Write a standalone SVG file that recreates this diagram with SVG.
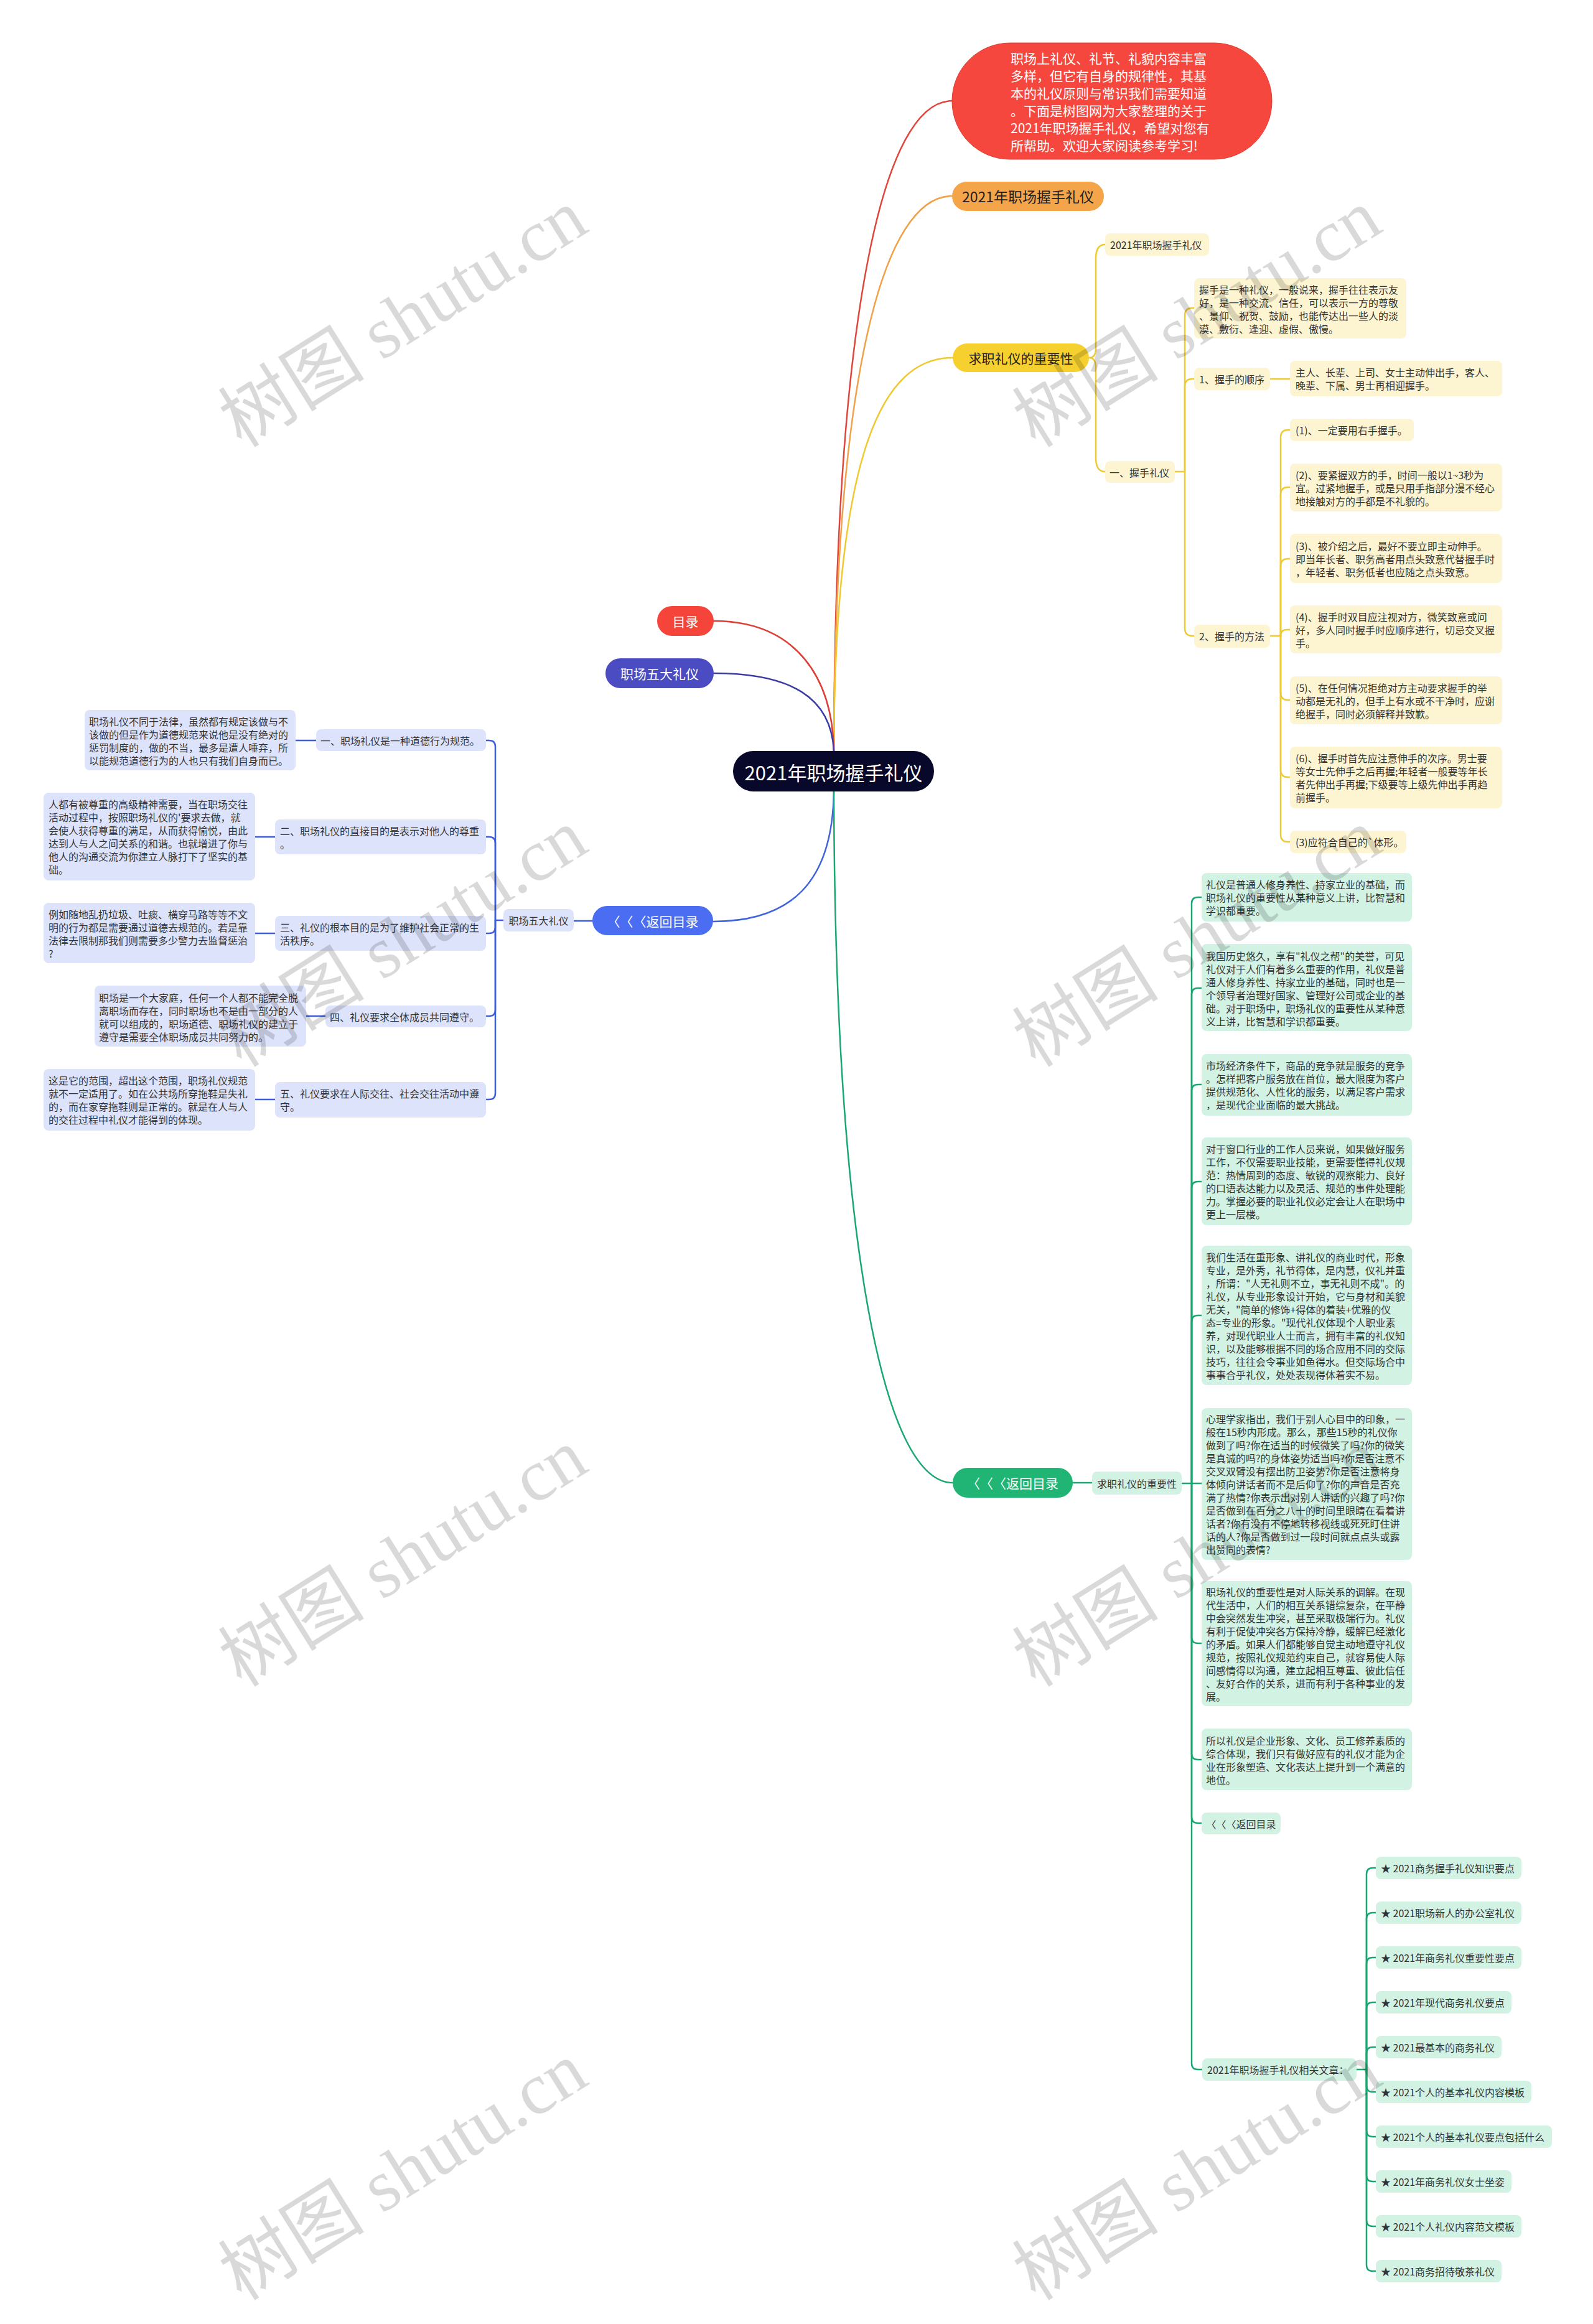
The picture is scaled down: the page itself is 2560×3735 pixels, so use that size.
<svg xmlns="http://www.w3.org/2000/svg" width="2560" height="3735" viewBox="0 0 2560 3735">
<style>
text{font-family:"Noto Sans CJK SC","Noto Sans",sans-serif;dominant-baseline:central;text-spacing-trim:space-all}
tspan{dominant-baseline:central}
.s{font-size:16px;fill:#333}
.w{fill:#fff;text-anchor:middle}
.ly{fill:#fdf5d1}
.lb{fill:#dde3fb}
.lg{fill:#d2f2e4}
#links path{fill:none;stroke-width:2.5;stroke-linecap:round}
.cy{stroke:#efc930}
.cb{stroke:#3e5fd8}
.cg{stroke:#19a771}
.wm{font-family:"Liberation Serif","Noto Sans CJK SC",serif;font-size:118px;fill:#000;fill-opacity:.15;text-anchor:middle}
</style>
<rect width="2560" height="3735" fill="#fff"/>
<g id="links">
<path stroke="#e0453b" d="M1340,1207 C1342,500 1420,162 1530,162"/>
<path stroke="#f0a24a" d="M1340,1207 C1342,600 1420,315 1530,315"/>
<path stroke="#efc92f" d="M1340,1207 C1342,720 1420,575 1531,575"/>
<path stroke="#dc3f36" d="M1147,998 C1280,998 1338,1090 1340,1207"/>
<path stroke="#3b3ba6" d="M1147,1082 C1270,1082 1336,1120 1340,1207"/>
<path stroke="#3f63dd" d="M1340,1272 C1338,1420 1270,1481 1146,1481"/>
<path stroke="#1aa872" d="M1340,1272 C1342,2000 1420,2383 1531,2383"/>
<path class="cb" d="M952,1480 H922"/>
<path class="cb" d="M809,1479 H796 V1200 Q796,1190 786,1190 H781"/>
<path class="cb" d="M796,1479 V1355 Q796,1345 786,1345 H781"/>
<path class="cb" d="M796,1479 V1490 Q796,1500 786,1500 H781"/>
<path class="cb" d="M796,1479 V1623 Q796,1633 786,1633 H781"/>
<path class="cb" d="M796,1479 V1757 Q796,1767 786,1767 H781"/>
<path class="cb" d="M475,1190 H508"/>
<path class="cb" d="M410,1345 H442"/>
<path class="cb" d="M410,1500 H442"/>
<path class="cb" d="M492,1633 H523"/>
<path class="cb" d="M410,1767 H442"/>
<path class="cy" d="M1750,575 Q1761,575 1761,560 V415 Q1761,393 1776,393"/>
<path class="cy" d="M1750,575 Q1761,575 1761,590 V736 Q1761,758 1776,758"/>
<path class="cy" d="M1888,758 H1904 V507 Q1904,495 1916,495 H1919"/>
<path class="cy" d="M1904,758 V621 Q1904,609 1916,609 H1919"/>
<path class="cy" d="M1904,758 V1010 Q1904,1022 1916,1022 H1919"/>
<path class="cy" d="M2041,609 H2073"/>
<path class="cy" d="M2041,1022 H2058 V703 Q2058,691 2070,691 H2073"/>
<path class="cy" d="M2058,1022 V795 Q2058,783 2070,783 H2073"/>
<path class="cy" d="M2058,1022 V910 Q2058,898 2070,898 H2073"/>
<path class="cy" d="M2058,1022 Q2058,1012 2068,1012 H2073"/>
<path class="cy" d="M2058,1022 V1113 Q2058,1125 2070,1125 H2073"/>
<path class="cy" d="M2058,1022 V1237 Q2058,1249 2070,1249 H2073"/>
<path class="cy" d="M2058,1022 V1341 Q2058,1353 2070,1353 H2073"/>
<path class="cg" d="M1724,2383 H1755"/>
<path class="cg" d="M1899,2384 H1931"/>
<path class="cg" d="M1915,2384 V1452 Q1915,1442 1925,1442 H1931"/>
<path class="cg" d="M1915,2384 V1598 Q1915,1588 1925,1588 H1931"/>
<path class="cg" d="M1915,2384 V1753 Q1915,1743 1925,1743 H1931"/>
<path class="cg" d="M1915,2384 V1909 Q1915,1899 1925,1899 H1931"/>
<path class="cg" d="M1915,2384 V2124 Q1915,2114 1925,2114 H1931"/>
<path class="cg" d="M1915,2384 V2631 Q1915,2641 1925,2641 H1931"/>
<path class="cg" d="M1915,2384 V2818 Q1915,2828 1925,2828 H1931"/>
<path class="cg" d="M1915,2384 V2920 Q1915,2930 1925,2930 H1931"/>
<path class="cg" d="M1915,2384 V3316 Q1915,3326 1925,3326 H1932"/>
<path class="cg" d="M2180,3326 H2196 V3012 Q2196,3002 2206,3002 H2211"/>
<path class="cg" d="M2196,3326 V3084 Q2196,3074 2206,3074 H2211"/>
<path class="cg" d="M2196,3326 V3156 Q2196,3146 2206,3146 H2211"/>
<path class="cg" d="M2196,3326 V3228 Q2196,3218 2206,3218 H2211"/>
<path class="cg" d="M2196,3326 V3300 Q2196,3290 2206,3290 H2211"/>
<path class="cg" d="M2196,3326 V3352 Q2196,3362 2206,3362 H2211"/>
<path class="cg" d="M2196,3326 V3424 Q2196,3434 2206,3434 H2211"/>
<path class="cg" d="M2196,3326 V3496 Q2196,3506 2206,3506 H2211"/>
<path class="cg" d="M2196,3326 V3568 Q2196,3578 2206,3578 H2211"/>
<path class="cg" d="M2196,3326 V3640 Q2196,3650 2206,3650 H2211"/>
</g>

<g id="center"><rect x="1178" y="1207" width="323" height="65" rx="32.5" fill="#08082a"/><text class="w" x="1339.5" y="1240" font-size="31">2021年职场握手礼仪</text></g>

<g id="intro"><rect x="1530" y="69" width="514" height="187" rx="93" fill="#f5473d" stroke="#de3a30" stroke-width="1"/>
<text font-size="21" fill="#fff"><tspan x="1624" y="93">职场上礼仪、礼节、礼貌内容丰富</tspan><tspan x="1624" y="121">多样，但它有自身的规律性，其基</tspan><tspan x="1624" y="149">本的礼仪原则与常识我们需要知道</tspan><tspan x="1624" y="177">。下面是树图网为大家整理的关于</tspan><tspan x="1624" y="205">2021年职场握手礼仪，希望对您有</tspan><tspan x="1624" y="233">所帮助。欢迎大家阅读参考学习!</tspan></text></g>

<g id="title2"><rect x="1530" y="292" width="244" height="47" rx="23.5" fill="#f4a449"/><text x="1652" y="315" font-size="23" fill="#222" text-anchor="middle">2021年职场握手礼仪</text></g>

<g id="mulu"><rect x="1056" y="974" width="91" height="48" rx="24" fill="#f5453b"/><text class="w" x="1101.5" y="998" font-size="21">目录</text></g>
<g id="wuda"><rect x="973" y="1058" width="174" height="48" rx="24" fill="#4c4cc2"/><text class="w" x="1060" y="1082" font-size="21">职场五大礼仪</text></g>
<g id="back-blue"><rect x="952" y="1456" width="194" height="47" rx="23.5" fill="#4a6df2"/><text class="w" x="1049" y="1480" font-size="21">〈〈〈返回目录</text></g>
<g id="back-green"><rect x="1531" y="2359" width="193" height="48" rx="24" fill="#20b574"/><text class="w" x="1627.5" y="2383" font-size="21">〈〈〈返回目录</text></g>
<g id="qiuzhi-y"><rect x="1531" y="552" width="219" height="46" rx="23" fill="#f6d02f"/><text x="1640.5" y="575" font-size="21" fill="#222" text-anchor="middle">求职礼仪的重要性</text></g>

<g id="y-title"><rect class="ly" x="1776" y="375" width="167" height="36" rx="8"/><text class="s" x="1784" y="393" font-size="18">2021年职场握手礼仪</text></g>
<g id="y-ws"><rect class="ly" x="1776" y="741" width="112" height="35" rx="8"/><text class="s" x="1783" y="758.5">一、握手礼仪</text></g>
<g id="y-def"><rect class="ly" x="1919" y="447" width="341" height="97" rx="8"/><text class="s"><tspan x="1927" y="465">握手是一种礼仪，一般说来，握手往往表示友</tspan><tspan x="1927" y="486">好，是一种交流、信任，可以表示一方的尊敬</tspan><tspan x="1927" y="507">、景仰、祝贺、鼓励，也能传达出一些人的淡</tspan><tspan x="1927" y="528">漠、敷衍、逢迎、虚假、傲慢。</tspan></text></g>
<g id="y-order"><rect class="ly" x="1919" y="591" width="122" height="36" rx="8"/><text class="s" x="1927" y="609">1、握手的顺序</text></g>
<g id="y-order-d"><rect class="ly" x="2073" y="580" width="341" height="57" rx="8"/><text class="s"><tspan x="2082" y="598">主人、长辈、上司、女士主动伸出手，客人、</tspan><tspan x="2082" y="619">晚辈、下属、男士再相迎握手。</tspan></text></g>
<g id="y-method"><rect class="ly" x="1919" y="1004" width="122" height="37" rx="8"/><text class="s" x="1927" y="1022">2、握手的方法</text></g>
<g id="y-m1"><rect class="ly" x="2073" y="673" width="199" height="36" rx="8"/><text class="s" x="2082" y="691">(1)、一定要用右手握手。</text></g>
<g id="y-m2"><rect class="ly" x="2073" y="745" width="341" height="77" rx="8"/><text class="s"><tspan x="2082" y="763">(2)、要紧握双方的手，时间一般以1~3秒为</tspan><tspan x="2082" y="784">宜。过紧地握手，或是只用手指部分漫不经心</tspan><tspan x="2082" y="805">地接触对方的手都是不礼貌的。</tspan></text></g>
<g id="y-m3"><rect class="ly" x="2073" y="858" width="341" height="79" rx="8"/><text class="s"><tspan x="2082" y="877">(3)、被介绍之后，最好不要立即主动伸手。</tspan><tspan x="2082" y="898">即当年长者、职务高者用点头致意代替握手时</tspan><tspan x="2082" y="919">，年轻者、职务低者也应随之点头致意。</tspan></text></g>
<g id="y-m4"><rect class="ly" x="2073" y="973" width="341" height="77" rx="8"/><text class="s"><tspan x="2082" y="991">(4)、握手时双目应注视对方，微笑致意或问</tspan><tspan x="2082" y="1012">好，多人同时握手时应顺序进行，切忌交叉握</tspan><tspan x="2082" y="1033">手。</tspan></text></g>
<g id="y-m5"><rect class="ly" x="2073" y="1087" width="341" height="77" rx="8"/><text class="s"><tspan x="2082" y="1105">(5)、在任何情况拒绝对方主动要求握手的举</tspan><tspan x="2082" y="1126">动都是无礼的，但手上有水或不干净时，应谢</tspan><tspan x="2082" y="1147">绝握手，同时必须解释并致歉。</tspan></text></g>
<g id="y-m6"><rect class="ly" x="2073" y="1200" width="341" height="99" rx="8"/><text class="s"><tspan x="2082" y="1218">(6)、握手时首先应注意伸手的次序。男士要</tspan><tspan x="2082" y="1239">等女士先伸手之后再握;年轻者一般要等年长</tspan><tspan x="2082" y="1260">者先伸出手再握;下级要等上级先伸出手再趋</tspan><tspan x="2082" y="1281">前握手。</tspan></text></g>
<g id="y-m7"><rect class="ly" x="2073" y="1335" width="187" height="36" rx="8"/><text class="s" x="2082" y="1353">(3)应符合自己的`体形。</text></g>

<g id="b-root"><rect class="lb" x="809" y="1461" width="113" height="36" rx="8"/><text class="s" x="865.5" y="1479" text-anchor="middle">职场五大礼仪</text></g>
<g id="b1"><rect class="lb" x="508" y="1172" width="273" height="35" rx="8"/><text class="s" x="515" y="1189.5">一、职场礼仪是一种道德行为规范。</text></g>
<g id="b1d"><rect class="lb" x="136" y="1141" width="339" height="97" rx="8"/><text class="s"><tspan x="143" y="1159">职场礼仪不同于法律，虽然都有规定该做与不</tspan><tspan x="143" y="1180">该做的但是作为道德规范来说他是没有绝对的</tspan><tspan x="143" y="1201">惩罚制度的，做的不当，最多是遭人唾弃，所</tspan><tspan x="143" y="1222">以能规范道德行为的人也只有我们自身而已。</tspan></text></g>
<g id="b2"><rect class="lb" x="442" y="1317" width="339" height="56" rx="8"/><text class="s"><tspan x="450" y="1335">二、职场礼仪的直接目的是表示对他人的尊重</tspan><tspan x="450" y="1356">。</tspan></text></g>
<g id="b2d"><rect class="lb" x="70" y="1274" width="340" height="141" rx="8"/><text class="s"><tspan x="78" y="1292">人都有被尊重的高级精神需要，当在职场交往</tspan><tspan x="78" y="1313">活动过程中，按照职场礼仪的'要求去做，就</tspan><tspan x="78" y="1334">会使人获得尊重的满足，从而获得愉悦，由此</tspan><tspan x="78" y="1355">达到人与人之间关系的和谐。也就增进了你与</tspan><tspan x="78" y="1376">他人的沟通交流为你建立人脉打下了坚实的基</tspan><tspan x="78" y="1397">础。</tspan></text></g>
<g id="b3"><rect class="lb" x="442" y="1472" width="339" height="56" rx="8"/><text class="s"><tspan x="450" y="1490">三、礼仪的根本目的是为了维护社会正常的生</tspan><tspan x="450" y="1511">活秩序。</tspan></text></g>
<g id="b3d"><rect class="lb" x="70" y="1451" width="340" height="97" rx="8"/><text class="s"><tspan x="78" y="1469">例如随地乱扔垃圾、吐痰、横穿马路等等不文</tspan><tspan x="78" y="1490">明的行为都是需要通过道德去规范的。若是靠</tspan><tspan x="78" y="1511">法律去限制那我们则需要多少警力去监督惩治</tspan><tspan x="78" y="1532">?</tspan></text></g>
<g id="b4"><rect class="lb" x="523" y="1616" width="258" height="35" rx="8"/><text class="s" x="530" y="1633.5">四、礼仪要求全体成员共同遵守。</text></g>
<g id="b4d"><rect class="lb" x="152" y="1584" width="340" height="98" rx="8"/><text class="s"><tspan x="159" y="1602.5">职场是一个大家庭，任何一个人都不能完全脱</tspan><tspan x="159" y="1623.5">离职场而存在，同时职场也不是由一部分的人</tspan><tspan x="159" y="1644.5">就可以组成的，职场道德、职场礼仪的建立于</tspan><tspan x="159" y="1665.5">遵守是需要全体职场成员共同努力的。</tspan></text></g>
<g id="b5"><rect class="lb" x="442" y="1739" width="339" height="57" rx="8"/><text class="s"><tspan x="450" y="1757">五、礼仪要求在人际交往、社会交往活动中遵</tspan><tspan x="450" y="1778">守。</tspan></text></g>
<g id="b5d"><rect class="lb" x="70" y="1718" width="340" height="99" rx="8"/><text class="s"><tspan x="78" y="1736">这是它的范围，超出这个范围，职场礼仪规范</tspan><tspan x="78" y="1757">就不一定适用了。如在公共场所穿拖鞋是失礼</tspan><tspan x="78" y="1778">的，而在家穿拖鞋则是正常的。就是在人与人</tspan><tspan x="78" y="1799">的交往过程中礼仪才能得到的体现。</tspan></text></g>

<g id="g-root"><rect class="lg" x="1755" y="2365" width="144" height="37" rx="8"/><text class="s" x="1827" y="2383.5" text-anchor="middle">求职礼仪的重要性</text></g>
<g id="g1"><rect class="lg" x="1931" y="1403" width="338" height="78" rx="8"/><text class="s"><tspan x="1938" y="1421">礼仪是普通人修身养性、持家立业的基础，而</tspan><tspan x="1938" y="1442">职场礼仪的重要性从某种意义上讲，比智慧和</tspan><tspan x="1938" y="1463">学识都重要。</tspan></text></g>
<g id="g2"><rect class="lg" x="1931" y="1517" width="338" height="140" rx="8"/><text class="s"><tspan x="1938" y="1535.5">我国历史悠久，享有"礼仪之帮"的美誉，可见</tspan><tspan x="1938" y="1556.5">礼仪对于人们有着多么重要的作用，礼仪是普</tspan><tspan x="1938" y="1577.5">通人修身养性、持家立业的基础，同时也是一</tspan><tspan x="1938" y="1598.5">个领导者治理好国家、管理好公司或企业的基</tspan><tspan x="1938" y="1619.5">础。对于职场中，职场礼仪的重要性从某种意</tspan><tspan x="1938" y="1640.5">义上讲，比智慧和学识都重要。</tspan></text></g>
<g id="g3"><rect class="lg" x="1931" y="1694" width="338" height="99" rx="8"/><text class="s"><tspan x="1938" y="1712">市场经济条件下，商品的竞争就是服务的竞争</tspan><tspan x="1938" y="1733">。怎样把客户服务放在首位，最大限度为客户</tspan><tspan x="1938" y="1754">提供规范化、人性化的服务，以满足客户需求</tspan><tspan x="1938" y="1775">，是现代企业面临的最大挑战。</tspan></text></g>
<g id="g4"><rect class="lg" x="1931" y="1828" width="338" height="141" rx="8"/><text class="s"><tspan x="1938" y="1846">对于窗口行业的工作人员来说，如果做好服务</tspan><tspan x="1938" y="1867">工作，不仅需要职业技能，更需要懂得礼仪规</tspan><tspan x="1938" y="1888">范：热情周到的态度、敏锐的观察能力、良好</tspan><tspan x="1938" y="1909">的口语表达能力以及灵活、规范的事件处理能</tspan><tspan x="1938" y="1930">力。掌握必要的职业礼仪必定会让人在职场中</tspan><tspan x="1938" y="1951">更上一层楼。</tspan></text></g>
<g id="g5"><rect class="lg" x="1931" y="2002" width="338" height="224" rx="8"/><text class="s"><tspan x="1938" y="2019.5">我们生活在重形象、讲礼仪的商业时代，形象</tspan><tspan x="1938" y="2040.5">专业，是外秀，礼节得体，是内慧，仪礼并重</tspan><tspan x="1938" y="2061.5">，所谓："人无礼则不立，事无礼则不成"。的</tspan><tspan x="1938" y="2082.5">礼仪，从专业形象设计开始，它与身材和美貌</tspan><tspan x="1938" y="2103.5">无关，"简单的修饰+得体的着装+优雅的仪</tspan><tspan x="1938" y="2124.5">态=专业的形象。"现代礼仪体现个人职业素</tspan><tspan x="1938" y="2145.5">养，对现代职业人士而言，拥有丰富的礼仪知</tspan><tspan x="1938" y="2166.5">识，以及能够根据不同的场合应用不同的交际</tspan><tspan x="1938" y="2187.5">技巧，往往会令事业如鱼得水。但交际场合中</tspan><tspan x="1938" y="2208.5">事事合乎礼仪，处处表现得体着实不易。</tspan></text></g>
<g id="g6"><rect class="lg" x="1931" y="2263" width="338" height="244" rx="8"/><text class="s"><tspan x="1938" y="2280">心理学家指出，我们于别人心目中的印象，一</tspan><tspan x="1938" y="2301">般在15秒内形成。那么，那些15秒的礼仪你</tspan><tspan x="1938" y="2322">做到了吗?你在适当的时候微笑了吗?你的微笑</tspan><tspan x="1938" y="2343">是真诚的吗?的身体姿势适当吗?你是否注意不</tspan><tspan x="1938" y="2364">交叉双臂没有摆出防卫姿势?你是否注意将身</tspan><tspan x="1938" y="2385">体倾向讲话者而不是后仰了?你的声音是否充</tspan><tspan x="1938" y="2406">满了热情?你表示出对别人讲话的兴趣了吗?你</tspan><tspan x="1938" y="2427">是否做到在百分之八十的时间里眼睛在看着讲</tspan><tspan x="1938" y="2448">话者?你有没有不停地转移视线或死死盯住讲</tspan><tspan x="1938" y="2469">话的人?你是否做到过一段时间就点点头或露</tspan><tspan x="1938" y="2490">出赞同的表情?</tspan></text></g>
<g id="g7"><rect class="lg" x="1931" y="2541" width="338" height="201" rx="8"/><text class="s"><tspan x="1938" y="2557.5">职场礼仪的重要性是对人际关系的调解。在现</tspan><tspan x="1938" y="2578.5">代生活中，人们的相互关系错综复杂，在平静</tspan><tspan x="1938" y="2599.5">中会突然发生冲突，甚至采取极端行为。礼仪</tspan><tspan x="1938" y="2620.5">有利于促使冲突各方保持冷静，缓解已经激化</tspan><tspan x="1938" y="2641.5">的矛盾。如果人们都能够自觉主动地遵守礼仪</tspan><tspan x="1938" y="2662.5">规范，按照礼仪规范约束自己，就容易使人际</tspan><tspan x="1938" y="2683.5">间感情得以沟通，建立起相互尊重、彼此信任</tspan><tspan x="1938" y="2704.5">、友好合作的关系，进而有利于各种事业的发</tspan><tspan x="1938" y="2725.5">展。</tspan></text></g>
<g id="g8"><rect class="lg" x="1931" y="2778" width="338" height="99" rx="8"/><text class="s"><tspan x="1938" y="2796.5">所以礼仪是企业形象、文化、员工修养素质的</tspan><tspan x="1938" y="2817.5">综合体现，我们只有做好应有的礼仪才能为企</tspan><tspan x="1938" y="2838.5">业在形象塑造、文化表达上提升到一个满意的</tspan><tspan x="1938" y="2859.5">地位。</tspan></text></g>
<g id="g9"><rect class="lg" x="1931" y="2913" width="127" height="35" rx="8"/><text class="s" x="1994.5" y="2930.5" text-anchor="middle">〈〈〈返回目录</text></g>
<g id="g10"><rect class="lg" x="1932" y="3308" width="248" height="36" rx="8"/><text class="s" x="1940" y="3326">2021年职场握手礼仪相关文章：</text></g>

<g id="r1"><rect class="lg" x="2211" y="2984" width="234" height="36" rx="8"/><text class="s" x="2219" y="3002">★ 2021商务握手礼仪知识要点</text></g>
<g id="r2"><rect class="lg" x="2211" y="3056" width="234" height="36" rx="8"/><text class="s" x="2219" y="3074">★ 2021职场新人的办公室礼仪</text></g>
<g id="r3"><rect class="lg" x="2211" y="3128" width="234" height="36" rx="8"/><text class="s" x="2219" y="3146">★ 2021年商务礼仪重要性要点</text></g>
<g id="r4"><rect class="lg" x="2211" y="3200" width="218" height="36" rx="8"/><text class="s" x="2219" y="3218">★ 2021年现代商务礼仪要点</text></g>
<g id="r5"><rect class="lg" x="2211" y="3272" width="202" height="36" rx="8"/><text class="s" x="2219" y="3290">★ 2021最基本的商务礼仪</text></g>
<g id="r6"><rect class="lg" x="2211" y="3344" width="250" height="36" rx="8"/><text class="s" x="2219" y="3362">★ 2021个人的基本礼仪内容模板</text></g>
<g id="r7"><rect class="lg" x="2211" y="3416" width="283" height="36" rx="8"/><text class="s" x="2219" y="3434">★ 2021个人的基本礼仪要点包括什么</text></g>
<g id="r8"><rect class="lg" x="2211" y="3488" width="218" height="36" rx="8"/><text class="s" x="2219" y="3506">★ 2021年商务礼仪女士坐姿</text></g>
<g id="r9"><rect class="lg" x="2211" y="3560" width="234" height="36" rx="8"/><text class="s" x="2219" y="3578">★ 2021个人礼仪内容范文模板</text></g>
<g id="r10"><rect class="lg" x="2211" y="3632" width="202" height="36" rx="8"/><text class="s" x="2219" y="3650">★ 2021商务招待敬茶礼仪</text></g>

<g id="watermarks">
<text class="wm" x="648" y="512" transform="rotate(-32 648 512)">树图 shutu.cn</text>
<text class="wm" x="1924" y="512" transform="rotate(-32 1924 512)">树图 shutu.cn</text>
<text class="wm" x="648" y="1508" transform="rotate(-32 648 1508)">树图 shutu.cn</text>
<text class="wm" x="1924" y="1508" transform="rotate(-32 1924 1508)">树图 shutu.cn</text>
<text class="wm" x="648" y="2504" transform="rotate(-32 648 2504)">树图 shutu.cn</text>
<text class="wm" x="1924" y="2504" transform="rotate(-32 1924 2504)">树图 shutu.cn</text>
<text class="wm" x="648" y="3490" transform="rotate(-32 648 3490)">树图 shutu.cn</text>
<text class="wm" x="1924" y="3490" transform="rotate(-32 1924 3490)">树图 shutu.cn</text>
</g>
</svg>
